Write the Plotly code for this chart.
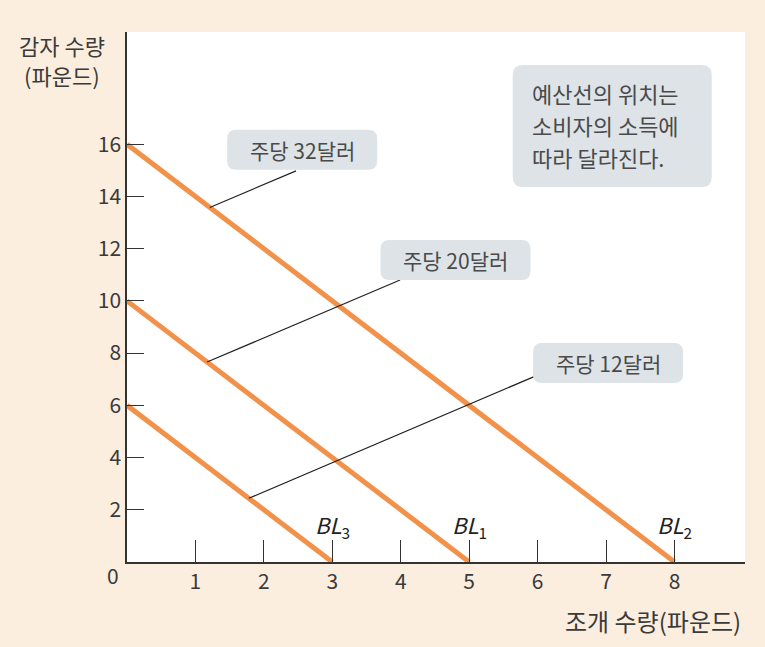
import plotly.graph_objects as go

# budget lines: income per week, max potatoes (y), max clams (x)
bl_names = ["BL<sub>2</sub>", "BL<sub>1</sub>", "BL<sub>3</sub>"]
incomes = [32, 20, 12]
potato_max = [16, 10, 6]
clam_max = [8, 5, 3]

x_ticks = [1, 2, 3, 4, 5, 6, 7, 8]
y_ticks = [2, 4, 6, 8, 10, 12, 14, 16]

# where each callout touches its line (clam quantity)
callout_x = [1.21, 1.17, 1.78]

FONT = "Noto Sans CJK KR"
ORANGE = "#F2914A"
BOX = "#DDE3E6"
TXT = "#3a3a3a"

fig = go.Figure()

for name, pm, cx in zip(bl_names, potato_max, clam_max):
    fig.add_trace(go.Scatter(
        x=[0, cx], y=[pm, 0], mode="lines",
        line=dict(color=ORANGE, width=5),
        showlegend=False, hoverinfo="skip",
    ))

# BL labels next to the bottom of each line
for name, cx in zip(bl_names, clam_max):
    fig.add_annotation(
        x=cx, y=1.4, text="<i>" + name.replace("<sub>", "</i><sub>"),
        showarrow=False, font=dict(family=FONT, size=22, color="#222"),
    )

# callout boxes (center in data units) and leader-line ends
box_centers = [(2.56, 15.79), (4.80, 11.57), (7.03, 7.62)]
leader_ends = [(2.47, 14.98), (3.99, 10.80), (5.94, 7.09)]


def rounded(w, h, r):
    hw, hh = w / 2, h / 2
    return (f"M{-hw + r},{-hh} L{hw - r},{-hh} Q{hw},{-hh} {hw},{-hh + r} "
            f"L{hw},{hh - r} Q{hw},{hh} {hw - r},{hh} L{-hw + r},{hh} "
            f"Q{-hw},{hh} {-hw},{hh - r} L{-hw},{-hh + r} Q{-hw},{-hh} {-hw + r},{-hh} Z")


for inc, pm, cx_pt, (bx, by), (lx, ly) in zip(incomes, potato_max, callout_x,
                                               box_centers, leader_ends):
    y_pt = pm * (1 - cx_pt / (pm / 2))
    fig.add_shape(type="line", x0=cx_pt, y0=y_pt, x1=lx, y1=ly,
                  line=dict(color="#222", width=1.2), layer="above")
    fig.add_shape(type="path", xref="x", yref="y", xsizemode="pixel",
                  ysizemode="pixel", xanchor=bx, yanchor=by,
                  path=rounded(150, 40, 9), fillcolor=BOX,
                  line=dict(width=0), layer="above")
    fig.add_annotation(x=bx, y=by, text=f"주당 {inc}달러", showarrow=False,
                       font=dict(family=FONT, size=21, color="#4a4a4a"))

# explanatory box
fig.add_shape(type="path", xref="x", yref="y", xsizemode="pixel",
              ysizemode="pixel", xanchor=7.09, yanchor=16.70,
              path=rounded(199, 122, 10), fillcolor=BOX,
              line=dict(width=0), layer="above")
note_lines = ["예산선의 위치는", "소비자의 소득에", "따라 달라진다."]
for i, t in enumerate(note_lines):
    fig.add_annotation(x=5.89, y=17.95 - i * 1.226, text=t, showarrow=False,
                       xanchor="left",
                       font=dict(family=FONT, size=22, color="#4a4a4a"))

# axis titles and origin
fig.add_annotation(xref="paper", yref="paper", x=-0.105, y=0.975,
                   xanchor="center", yanchor="middle",
                   text="감자 수량", showarrow=False,
                   font=dict(family=FONT, size=22, color=TXT))
fig.add_annotation(xref="paper", yref="paper", x=-0.105, y=0.919,
                   xanchor="center", yanchor="middle",
                   text="(파운드)", showarrow=False,
                   font=dict(family=FONT, size=22, color=TXT))
fig.add_annotation(xref="paper", yref="paper", x=0.996, y=-0.11,
                   xanchor="right", yanchor="middle",
                   text="조개 수량(파운드)", showarrow=False,
                   font=dict(family=FONT, size=24, color=TXT))
fig.add_annotation(xref="paper", yref="paper", x=-0.0227, y=-0.0245,
                   xanchor="center", yanchor="middle", text="0", showarrow=False,
                   font=dict(family=FONT, size=21, color=TXT))

fig.update_xaxes(range=[0, 9.03], tickvals=x_ticks, ticks="inside", ticklen=22,
                 tickwidth=1.2, tickcolor="#333", showline=True,
                 linecolor="#333", linewidth=1.5, showgrid=False, zeroline=False,
                 tickfont=dict(family=FONT, size=21, color=TXT))
fig.update_yaxes(range=[0, 20.3], tickvals=y_ticks, ticks="inside", ticklen=17,
                 tickwidth=1.2, tickcolor="#333", showline=True,
                 linecolor="#333", linewidth=1.5, showgrid=False, zeroline=False,
                 tickfont=dict(family=FONT, size=21, color=TXT))

fig.update_layout(
    width=765, height=647,
    margin=dict(l=127, r=20, t=32, b=85),
    paper_bgcolor="#FBEEDF", plot_bgcolor="white",
    font=dict(family=FONT),
)

fig.write_html("out.html", config={"displayModeBar": False},
               post_script="document.body.style.margin='0';")
